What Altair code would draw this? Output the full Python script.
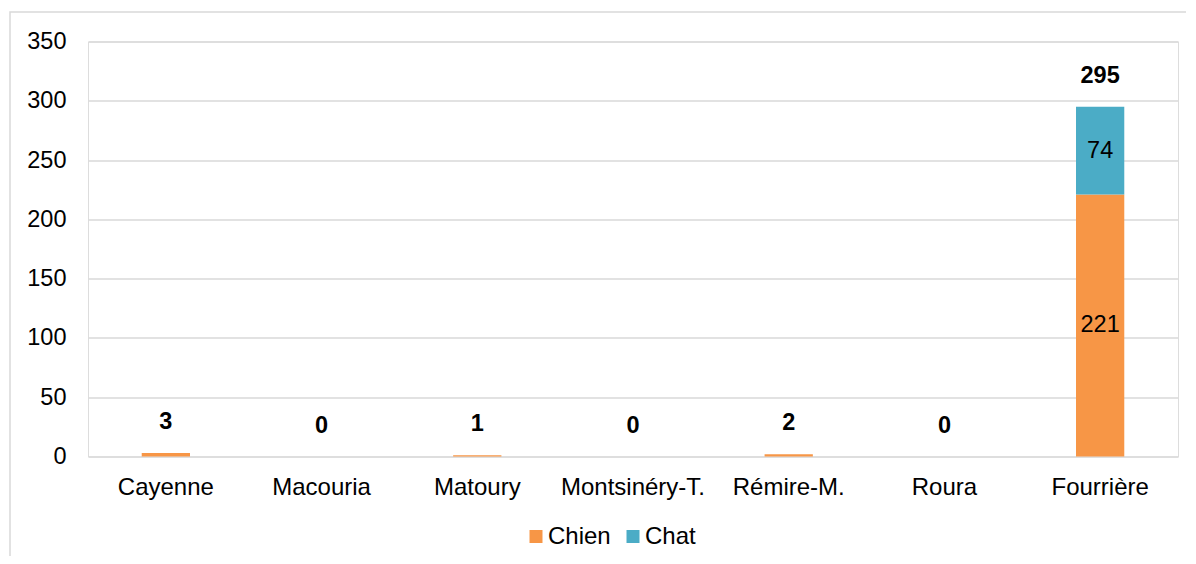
import altair as alt
import pandas as pd

communes = ["Cayenne", "Macouria", "Matoury", "Montsinéry-T.", "Rémire-M.", "Roura", "Fourrière"]
chien = [3, 0, 1, 0, 2, 0, 221]
chat = [0, 0, 0, 0, 0, 0, 74]
especes = ["Chien", "Chat"]
couleurs = ["#F79646", "#4BACC6"]
y_ticks = [0, 50, 100, 150, 200, 250, 300, 350]

rows = []
for i, c in enumerate(communes):
    rows.append({"commune": c, "espece": "Chien", "valeur": chien[i], "ordre": 0})
    rows.append({"commune": c, "espece": "Chat", "valeur": chat[i], "ordre": 1})
df = pd.DataFrame(rows)

FONT = "Liberation Sans"
FS = 23.5
FSX = 24
W, H = 1090, 415

x_enc = alt.X("commune:N", sort=communes,
              scale=alt.Scale(paddingInner=0.69, paddingOuter=0.345),
              axis=alt.Axis(title=None, labelAngle=0, labelFont=FONT, labelFontSize=FSX,
                            labelColor="#000000", domain=False, ticks=False,
                            labelPadding=19, grid=False))
y_scale = alt.Scale(domain=[0, 350])

base = alt.Chart(df)

bars = base.mark_bar().encode(
    x=x_enc,
    y=alt.Y("valeur:Q", stack="zero", scale=y_scale,
            axis=alt.Axis(title=None, values=y_ticks, labelFont=FONT, labelFontSize=FS,
                          labelColor="#000000", domain=False, ticks=False, labelPadding=22,
                          grid=True, gridColor="#D9D9D9", gridWidth=1.5)),
    color=alt.Color("espece:N", sort=especes,
                    scale=alt.Scale(domain=especes, range=couleurs),
                    legend=alt.Legend(title=None, orient="none", direction="horizontal",
                                      legendX=436, legendY=483, symbolType="square",
                                      symbolSize=169, symbolStrokeWidth=0,
                                      labelFont=FONT, labelFontSize=FSX, labelColor="#000000",
                                      labelOffset=0, columnPadding=10)),
    order=alt.Order("ordre:Q"),
)

inner = base.transform_stack(
    stack="valeur", groupby=["commune"], as_=["v0", "v1"], sort=[alt.SortField("ordre")]
).transform_calculate(
    mid="(datum.v0 + datum.v1) / 2"
).transform_filter(
    "datum.valeur >= 10"
).mark_text(font=FONT, fontSize=FS, color="#000000", baseline="middle").encode(
    x=alt.X("commune:N", sort=communes),
    y=alt.Y("mid:Q", scale=y_scale),
    text=alt.Text("valeur:Q"),
)

totals = base.transform_aggregate(
    total="sum(valeur)", groupby=["commune"]
).mark_text(font=FONT, fontSize=FS, fontWeight="bold", color="#000000",
            baseline="middle", dy=-31).encode(
    x=alt.X("commune:N", sort=communes),
    y=alt.Y("total:Q", scale=y_scale),
    text=alt.Text("total:Q"),
)

border = alt.Chart(pd.DataFrame({"a": [0]})).mark_rect(
    fill=None, stroke="#D9D9D9", strokeWidth=1.5
).encode(
    x=alt.value(-78), x2=alt.value(1300), y=alt.value(-29.5), y2=alt.value(700)
)

chart = alt.layer(border, bars, inner, totals).properties(
    width=W, height=H,
    autosize=alt.AutoSizeParams(type="none"),
    padding={"left": 80, "top": 33.5, "right": 8, "bottom": 99},
).configure_view(stroke=None).configure(background="#FFFFFF")

chart.save("out.html", embed_options={"renderer": "svg", "actions": False})
